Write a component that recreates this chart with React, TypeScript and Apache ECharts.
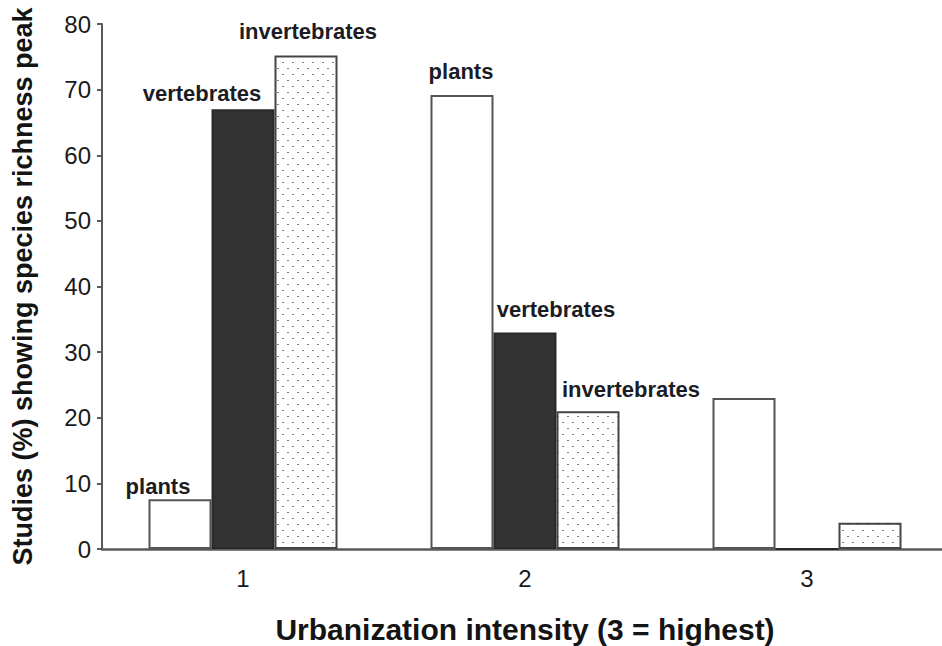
import React, { useEffect, useRef } from "react";
import * as echarts from "echarts";

const categories = ["1", "2", "3"];
const seriesNames = ["plants", "vertebrates", "invertebrates"];
const plants = [7.6, 69.2, 23];
const vertebrates = [67, 33, 0];
const invertebrates = [75.2, 21, 4];
const yTicks = [0, 10, 20, 30, 40, 50, 60, 70, 80];
// which bars carry a text label (per series, per category)
const labelled = [
  [true, true, false],
  [true, true, false],
  [true, true, false],
];
// label shifts [dx, dy] per series per category
const labelShift: number[][][] = [
  [[-22, -2], [-1, -12], [0, 0]],
  [[-41, -5], [31, -12], [0, 0]],
  [[2, -13], [43, -11], [0, 0]],
];

function makeDots(): HTMLCanvasElement {
  const c = document.createElement("canvas");
  c.width = 10;
  c.height = 12;
  const ctx = c.getContext("2d")!;
  ctx.fillStyle = "#ffffff";
  ctx.fillRect(0, 0, 10, 12);
  ctx.fillStyle = "#808080";
  ctx.fillRect(2, 2, 2, 1);
  ctx.fillRect(7, 8, 2, 1);
  return c;
}

export default function App() {
  const ref = useRef<HTMLDivElement>(null);
  useEffect(() => {
    if (!ref.current) return;
    const chart = echarts.init(ref.current, undefined, { renderer: "svg" });
    const dots = makeDots();
    const values = [plants, vertebrates, invertebrates];
    const fills: any[] = ["#ffffff", "#333333", { image: dots, repeat: "repeat" }];
    const borders = ["#555555", "#2a2a2a", "#444444"];
    const series = seriesNames.map((name, si) => ({
      name,
      type: "bar",
      barWidth: 63,
      barGap: "0%",
      itemStyle: { color: fills[si], borderColor: borders[si], borderWidth: 2 },
      data: values[si].map((v, ci) => ({
        value: v,
        label: {
          show: labelled[si][ci],
          position: "top",
          distance: 0,
          offset: labelShift[si][ci],
          formatter: name,
          fontFamily: "Liberation Sans, Arial, sans-serif",
          fontWeight: "bold",
          fontSize: 22,
          color: "#1c1c24",
        },
      })),
    }));
    chart.setOption({
      animation: false,
      backgroundColor: "#ffffff",
      grid: {
        left: 102,
        right: -6,
        top: 24,
        bottom: 97,
        containLabel: false,
        outerBoundsMode: "none",
      },
      xAxis: {
        type: "category",
        data: categories,
        axisTick: { show: false },
        axisLine: { lineStyle: { color: "#5a5a5a", width: 2.5 } },
        axisLabel: {
          fontFamily: "Liberation Sans, Arial, sans-serif",
          fontSize: 24,
          color: "#1a1a1a",
          margin: 17,
        },
        name: "Urbanization intensity (3 = highest)",
        nameLocation: "middle",
        nameGap: 65,
        nameTextStyle: {
          fontFamily: "Liberation Sans, Arial, sans-serif",
          fontWeight: "bold",
          fontSize: 30,
          color: "#141414",
        },
      },
      yAxis: {
        type: "value",
        min: yTicks[0],
        max: yTicks[yTicks.length - 1],
        interval: yTicks[1] - yTicks[0],
        splitLine: { show: false },
        axisLine: { show: true, lineStyle: { color: "#5a5a5a", width: 2 } },
        axisTick: { show: true, length: 5, lineStyle: { color: "#5a5a5a", width: 2 } },
        axisLabel: {
          fontFamily: "Liberation Sans, Arial, sans-serif",
          fontSize: 24,
          color: "#1a1a1a",
          margin: 11,
        },
        name: "Studies (%) showing species richness peak",
        nameLocation: "middle",
        nameGap: 66,
        nameTextStyle: {
          fontFamily: "Liberation Sans, Arial, sans-serif",
          fontWeight: "bold",
          fontSize: 27,
          color: "#141414",
        },
      },
      series,
    });
    return () => chart.dispose();
  }, []);
  return (
    <div
      ref={ref}
      style={{ position: "absolute", left: 0, top: 0, width: 942, height: 646, background: "#fff" }}
    />
  );
}
